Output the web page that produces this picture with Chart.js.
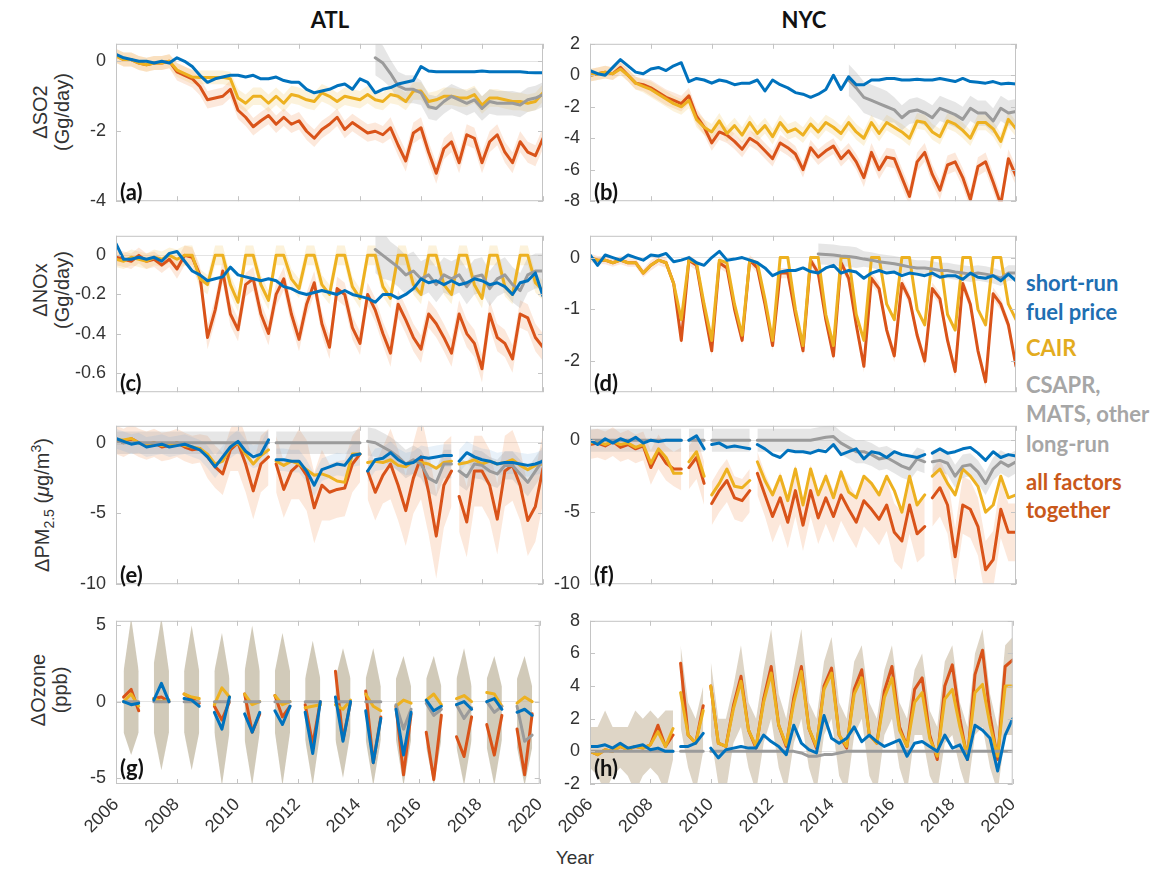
<!DOCTYPE html>
<html>
<head>
<meta charset="utf-8">
<script src="https://cdn.jsdelivr.net/npm/chart.js@4.4.1/dist/chart.umd.min.js"></script>
<style>
body { margin:0; background:#fff; width:1168px; height:873px; position:relative; overflow:hidden; font-family:"Liberation Sans", Arial, sans-serif; }
canvas { position:absolute; }
.t { position:absolute; white-space:nowrap; }
.head { font-family:Lato; font-weight:bold; font-size:22px; color:#111; transform:translate(-50%,-50%); }
.ylab { font-size:20px; color:#333; line-height:22px; text-align:center; transform:translate(-50%,-50%) rotate(-90deg); }
.ylab sub, .ylab sup { font-size:14px; line-height:0; }
.tag { font-family:Lato; font-weight:bold; font-size:22px; color:#111; }
.leg { font-family:Lato; font-weight:bold; font-size:22px; left:1026px; transform:translateY(-50%); }
</style>
</head>
<body>
<div class="t head" style="left:330px;top:19px">ATL</div>
<div class="t head" style="left:804px;top:19px">NYC</div>

<div class="t ylab" style="left:51px;top:112px">ΔSO2<br>(Gg/day)</div>
<div class="t ylab" style="left:51px;top:290px">ΔNOx<br>(Gg/day)</div>
<div class="t ylab" style="left:42px;top:505px">ΔPM<sub>2.5</sub> (<i>μ</i>g/m<sup>3</sup>)</div>
<div class="t ylab" style="left:49px;top:690px">ΔOzone<br>(ppb)</div>

<div class="t leg" style="top:282px;color:#1f6fb2">short-run</div>
<div class="t leg" style="top:311px;color:#1f6fb2">fuel price</div>
<div class="t leg" style="top:347px;color:#e3ac1f">CAIR</div>
<div class="t leg" style="top:384px;color:#a6a6a6">CSAPR,</div>
<div class="t leg" style="top:413px;color:#a6a6a6">MATS, other</div>
<div class="t leg" style="top:443px;color:#a6a6a6">long-run</div>
<div class="t leg" style="top:481px;color:#c9581a">all factors</div>
<div class="t leg" style="top:509px;color:#c9581a">together</div>

<div class="t" style="left:575px;top:858px;transform:translate(-50%,-50%);font-size:19px;color:#333">Year</div>

<script>
const N = null;

// tick labels
const yearTicks = [2006, 2008, 2010, 2012, 2014, 2016, 2018, 2020];
const so2AtlTicks = [-4, -2, 0];
const so2NycTicks = [-8, -6, -4, -2, 0, 2];
const noxAtlTicks = [-0.6, -0.4, -0.2, 0];
const noxNycTicks = [-2, -1, 0];
const pmTicks = [-10, -5, 0];
const o3AtlTicks = [-5, 0, 5];
const o3NycTicks = [-2, 0, 2, 4, 6, 8];

// quarterly grid, Jan 2006 .. Jan 2020
const QX = [];
for (let yr = 2006; yr <= 2020; yr++) {
	for (let q = 0; q < 4; q++) {
		if (yr < 2020 || q === 0) QX.push(yr + q / 4);
	}
}
function lead(n, arr) { return new Array(n).fill(null).concat(arr); }

// (a) ATL SO2
const atlSo2Fuel = [0.2,0.1,0.05,0, 0,-0.05,0,-0.05, 0.1,0,-0.15,-0.4, -0.6,-0.5,-0.45,-0.4, -0.4,-0.45,-0.4,-0.5, -0.5,-0.45,-0.55,-0.6, -0.6,-0.8,-0.9,-0.85, -0.8,-0.7,-0.65,-0.8, -0.5,-0.6,-0.9,-0.8, -0.75,-0.65,-0.6,-0.55, -0.15,-0.28,-0.3,-0.3, -0.3,-0.3,-0.3,-0.3, -0.28,-0.3,-0.3,-0.3, -0.3,-0.3,-0.32,-0.33, -0.33];
const atlSo2Cair = [0.15,0.05,0.05,-0.05, -0.1,-0.05,-0.05,0, -0.25,-0.35,-0.45,-0.46, -0.46,-0.46,-0.46,-0.5, -1.05,-1.2,-1.0,-1.0, -1.2,-1.0,-1.2,-0.95, -1.0,-1.1,-1.15,-0.9, -1.0,-1.15,-1.0,-1.05, -1.1,-0.95,-1.1,-1.15, -0.95,-1.0,-1.15,-0.85, -0.85,-1.15,-1.1,-1.0, -1.0,-1.05,-1.05,-0.95, -1.25,-1.05,-1.05,-1.1, -1.15,-1.15,-1.2,-1.15, -0.9];
const atlSo2Other = lead(34, [0.1,-0.05, -0.35,-0.7,-0.8,-0.8, -0.9,-1.3,-1.35,-1.15, -1.0,-1.1,-1.2,-1.1, -1.35,-1.15,-1.2,-1.2, -1.2,-1.25,-1.1,-1.05, -0.95]);
const atlSo2All = [0.16,0.05,0.05,-0.05, -0.1,-0.05,-0.05,0, -0.3,-0.4,-0.5,-0.72, -1.1,-1.05,-1.0,-0.8, -1.4,-1.6,-1.87,-1.7, -1.55,-1.8,-1.6,-1.8, -1.7,-2.0,-2.2,-1.95, -1.8,-1.6,-1.95,-1.75, -1.9,-2.05,-2.0,-2.1, -1.9,-2.4,-2.85,-2.05, -1.9,-2.6,-3.2,-2.5, -2.3,-2.9,-2.1,-2.2, -2.9,-2.3,-2.1,-2.6, -2.9,-2.3,-2.6,-2.7, -2.2];
const atlSo2AllSpread = [0.2,0.2,0.25,0.25,0.25,0.25,0.25,0.25,0.25,0.3,0.3,0.3,0.3,0.3,0.3];
const atlSo2CairSpread = [0.2,0.2,0.2,0.2,0.25,0.25,0.25,0.25,0.25,0.25,0.25,0.25,0.25,0.25,0.25];
const atlSo2OtherSpread = [0,0,0,0,0,0,0,0,0.5,0.4,0.35,0.35,0.35,0.35,0.35];

// (b) NYC SO2
const nycSo2Fuel = [0.3,0.1,0,0.5, 1.0,0.6,0.2,0.1, 0.4,0.5,0.3,0.6, 0.8,-0.4,-0.2,-0.3, -0.5,-0.3,-0.4,-0.6, -0.5,-0.5,-0.3,-1.0, -0.3,-0.6,-0.8,-1.1, -1.2,-1.4,-1.2,-0.9, 0,-0.9,-0.1,-0.6, -0.6,-0.3,-0.3,-0.2, -0.2,-0.3,-0.3,-0.25, -0.3,-0.3,-0.2,-0.3, -0.4,-0.2,-0.4,-0.45, -0.5,-0.4,-0.55,-0.5, -0.55];
const nycSo2Cair = [0,0.1,0.2,0.1, 0.4,0,-0.5,-0.7, -0.9,-1.2,-1.5,-1.8, -2.0,-1.6,-2.8,-3.3, -3.6,-2.9,-3.7,-3.2, -3.8,-3.0,-3.7,-3.2, -3.9,-3.0,-3.6,-3.4, -3.8,-3.1,-3.6,-3.0, -3.3,-3.7,-3.0,-3.6, -4.0,-3.0,-3.7,-3.0, -3.3,-3.6,-4.0,-2.9, -3.0,-3.6,-3.9,-2.9, -3.1,-3.5,-4.0,-3.0, -3.0,-3.4,-4.2,-2.8, -3.4];
const nycSo2Other = lead(34, [-0.3,-0.8, -1.4,-1.6,-1.8,-2.0, -2.2,-2.7,-2.3,-2.2, -2.4,-2.7,-2.1,-2.3, -2.5,-2.8,-2.1,-2.4, -2.4,-2.9,-2.1,-2.4, -2.3]);
const nycSo2All = [0,0.1,0.2,0.1, 0.5,0,-0.5,-0.6, -0.8,-1.1,-1.4,-1.6, -1.8,-1.3,-2.6,-3.3, -4.3,-3.6,-3.8,-4.2, -4.7,-4.0,-4.3,-4.8, -5.3,-4.3,-4.6,-5.0, -6.0,-4.6,-5.2,-4.8, -4.5,-5.3,-4.8,-5.5, -6.5,-4.9,-6.0,-5.2, -5.3,-6.5,-7.7,-5.5, -4.9,-6.3,-7.3,-5.7, -5.5,-6.5,-7.9,-5.8, -5.5,-6.8,-8.2,-5.3, -6.4];
const nycSo2AllSpread = [0.4,0.4,0.5,0.5,0.5,0.5,0.5,0.5,0.5,0.6,0.6,0.6,0.6,0.6,0.6];
const nycSo2CairSpread = [0.4,0.4,0.5,0.5,0.5,0.5,0.5,0.5,0.5,0.5,0.5,0.5,0.5,0.5,0.5];
const nycSo2OtherSpread = [0,0,0,0,0,0,0,0,1.0,1.0,0.8,0.8,0.8,0.8,0.8];

// (c) ATL NOx
const atlNoxFuel = [0.06,-0.02,-0.02,-0.01, -0.02,-0.01,-0.03,0.01, 0.02,-0.03,-0.08,-0.1, -0.13,-0.12,-0.11,-0.06, -0.1,-0.11,-0.12,-0.13, -0.12,-0.13,-0.16,-0.17, -0.19,-0.2,-0.19,-0.18, -0.19,-0.2,-0.18,-0.2, -0.21,-0.22,-0.24,-0.2, -0.2,-0.22,-0.2,-0.17, -0.12,-0.14,-0.13,-0.15, -0.13,-0.15,-0.14,-0.12, -0.13,-0.15,-0.14,-0.16, -0.2,-0.14,-0.13,-0.09, -0.21];
const atlNoxCair = [-0.02,-0.03,-0.01,-0.02, -0.03,-0.01,-0.02,0, -0.02,0,0,-0.12, -0.15,0,0,-0.15, -0.24,0,0,-0.15, -0.23,0,0,-0.12, -0.17,0,0,-0.15, -0.2,0,0,-0.16, -0.22,0,0,-0.16, -0.22,0,0,-0.15, -0.2,0,0,-0.15, -0.2,0,0,-0.15, -0.22,0,0,-0.16, -0.2,0,0,-0.14, -0.18];
const atlNoxOther = lead(34, [0.03,0.0, -0.03,-0.06,-0.1,-0.08, -0.12,-0.1,-0.15,-0.1, -0.12,-0.1,-0.16,-0.11, -0.1,-0.17,-0.12,-0.1, -0.15,-0.18,-0.1,-0.08, -0.08]);
const atlNoxAll = [-0.01,-0.02,-0.03,0, -0.03,-0.02,-0.05,-0.02, -0.07,0,-0.01,-0.1, -0.42,-0.28,-0.08,-0.3, -0.38,-0.15,-0.12,-0.3, -0.4,-0.2,-0.12,-0.3, -0.43,-0.25,-0.14,-0.35, -0.47,-0.17,-0.2,-0.37, -0.45,-0.2,-0.28,-0.4, -0.5,-0.25,-0.33,-0.42, -0.48,-0.3,-0.35,-0.42, -0.5,-0.3,-0.4,-0.45, -0.58,-0.3,-0.42,-0.45, -0.53,-0.3,-0.32,-0.42, -0.47];
const atlNoxAllSpread = [0.04,0.04,0.05,0.06,0.06,0.06,0.06,0.06,0.06,0.07,0.07,0.07,0.07,0.07,0.07];
const atlNoxCairSpread = [0.04,0.04,0.05,0.05,0.05,0.05,0.05,0.05,0.05,0.05,0.05,0.05,0.05,0.05,0.05];
const atlNoxOtherSpread = [0,0,0,0,0,0,0,0,0.12,0.1,0.09,0.09,0.09,0.09,0.09];

// (d) NYC NOx
const nycNoxFuel = [0.05,-0.15,0.05,0, -0.05,0.05,0,-0.05, 0.05,0.03,0.08,-0.08, -0.05,0,-0.1,-0.15, 0,0.12,-0.05,-0.03, 0,-0.05,-0.1,-0.2, -0.35,-0.28,-0.25,-0.25, -0.2,-0.27,-0.3,-0.2, -0.15,-0.3,-0.25,-0.28, -0.4,-0.3,-0.25,-0.3, -0.28,-0.35,-0.3,-0.32, -0.35,-0.3,-0.38,-0.35, -0.35,-0.42,-0.3,-0.38, -0.4,-0.35,-0.45,-0.32, -0.45];
const nycNoxCair = [0,-0.05,-0.05,-0.1, -0.05,-0.1,-0.1,-0.3, -0.15,-0.05,-0.1,-0.5, -1.2,-0.05,-0.1,-0.9, -1.6,-0.05,-0.1,-0.9, -1.5,-0.05,-0.1,-0.8, -1.6,0,0,-1.0, -1.7,0,0,-1.1, -1.7,0,0,-1.1, -1.6,0,0,-0.9, -1.2,0,0,-1.0, -1.3,0,0,-1.1, -1.4,0,0,-1.0, -1.3,0,0,-0.9, -1.2];
const nycNoxOther = lead(30, [0.07,0.06, 0.05,0.03,0.02,0, -0.03,-0.05,-0.08,-0.1, -0.12,-0.15,-0.18,-0.2, -0.2,-0.22,-0.25,-0.25, -0.28,-0.3,-0.32,-0.3, -0.32,-0.35,-0.4,-0.3, -0.3]);
const nycNoxAll = [0,-0.05,-0.05,-0.1, -0.05,-0.1,-0.1,-0.3, -0.15,-0.05,-0.1,-0.5, -1.6,-0.05,-0.15,-1.0, -1.8,-0.1,-0.2,-1.0, -1.6,-0.05,-0.2,-0.9, -1.7,-0.3,-0.3,-1.1, -1.8,-0.05,-0.3,-1.2, -1.9,-0.1,-0.4,-1.3, -2.1,-0.4,-0.6,-1.4, -1.9,-0.5,-0.8,-1.5, -2.0,-0.6,-0.8,-1.6, -2.2,-0.5,-0.9,-1.8, -2.4,-0.7,-0.9,-1.3, -2.1];
const nycNoxAllSpread = [0.08,0.08,0.1,0.1,0.1,0.1,0.1,0.1,0.1,0.12,0.12,0.12,0.12,0.12,0.12];
const nycNoxOtherSpread = [0,0,0,0,0,0,0,0.2,0.2,0.15,0.15,0.15,0.15,0.15,0.15];

// (e) ATL PM2.5, breaks in the record
const atlPmGaps = [2011.1, 2014.1, 2017.1];
const atlPmFuel = [0.3,0.1,-0.1,0, -0.3,-0.2,-0.1,-0.3, -0.2,-0.1,-0.3,-0.5, -1.0,-1.7,-1.0,-0.3, 0.1,-0.6,-1.0,-0.8, 0.2,-1.2,-1.2,-1.3, -1.3,-2.0,-3.0,-1.9, -1.7,-1.5,-1.6,-0.9, -0.8,-2.0,-1.2,-1.1, -0.7,-1.2,-1.5,-1.4, -1.0,-1.1,-1.0,-0.9, -0.9,-1.3,-0.7,-1.0, -1.2,-1.3,-1.5,-1.4, -1.4,-1.5,-1.6,-1.5, -1.3];
const atlPmCair = [0.2,0.2,0.3,0, -0.1,0,-0.2,-0.2, 0,-0.2,-0.3,-0.4, -0.8,-1.5,-1.3,-0.3, 0,-0.8,-1.5,-0.9, -0.5,-1.3,-1.6,-1.3, -1.5,-1.9,-2.3,-2.2, -2.4,-2.7,-2.8,-0.8, -0.8,-1.4,-1.3,-1.4, -1.2,-1.6,-1.7,-1.3, -1.4,-1.5,-1.8,-1.4, -1.3,-1.5,-1.4,-1.2, -1.5,-1.3,-1.5,-1.4, -1.2,-1.6,-1.9,-1.6, -1.5];
const atlPmOther = [0,0,0,0, 0,0,0,0, 0,0,0,0, 0,0,0,0, 0,0,0,0, 0,0,0,0, 0,0,0,0, 0,0,0,0, 0,0.1,0,-0.3, -0.6,-1.0,-1.5,-1.2, -1.5,-2.5,-2.8,-1.5, -1.5,-2.0,-2.4,-1.5, -1.6,-2.0,-2.2,-1.6, -1.6,-2.2,-2.8,-2.0, -1.2];
const atlPmAll = [0.2,0,0.3,0, -0.2,0,-0.3,-0.2, 0,-0.3,-0.5,-0.4, -1.0,-1.7,-2.2,-0.5, 0,-1.5,-3.4,-1.5, -1.0,-1.5,-3.3,-2.0, -1.5,-2.3,-4.6,-3.0, -3.5,-3.3,-3.2,-1.5, -0.8,-2.0,-3.5,-2.3, -1.5,-3.0,-4.8,-2.5, -1.0,-3.5,-6.6,-3.0, -2.0,-3.8,-5.6,-2.0, -2.0,-3.0,-5.4,-2.0, -1.6,-3.0,-5.5,-4.5, -1.8];
const atlPmAllSpread = [1.0,1.0,1.0,1.5,2.0,2.0,2.5,2.0,2.0,2.5,3.0,2.5,2.5,2.5,2.5];
const atlPmFuelSpread = [0.7,0.7,0.7,0.8,0.8,0.8,0.8,0.8,0.8,0.8,0.8,0.8,0.8,0.8,0.8];
const atlPmOtherSpread = [0.8,0.8,0.8,0.8,0.8,0.8,0.8,0.8,1.0,1.0,1.0,1.0,1.0,1.0,1.0];

// (f) NYC PM2.5
const nycPmGaps = [2009.1, 2009.9, 2011.4, 2017.2];
const nycPmFuel = [0,-0.3,0.1,-0.2, 0.1,-0.1,0.2,-0.2, 0,-0.1,0,0, 0,0,0.3,-0.6, -0.3,-0.2,-0.5,-0.4, -0.5,-0.6,-0.3,-0.6, -1.0,-1.2,-0.7,-0.8, -0.8,-0.9,-0.7,-0.8, -0.3,-1.0,-0.8,-0.6, -1.3,-0.8,-0.9,-1.2, -0.8,-1.0,-1.1,-1.2, -1.0,-0.9,-0.6,-0.9, -0.8,-0.6,-0.5,-0.9, -1.4,-0.8,-1.2,-1.0, -1.1];
const nycPmCair = [-0.2,-0.1,-0.3,-0.1, -0.3,-0.2,-0.5,-0.3, -1.6,-0.6,-1.2,-2.3, -2.3,-1.5,-0.8,-2.5, -3.8,-3.0,-2.0,-3.2, -3.3,-2.8,-1.5,-2.8, -3.8,-2.5,-4.2,-2.0, -4.5,-2.0,-3.8,-2.5, -4.0,-2.2,-3.6,-4.0, -2.5,-3.0,-3.8,-2.5, -3.5,-5.0,-2.5,-4.5, -3.8,-2.5,-2.0,-3.0, -3.8,-2.0,-2.5,-3.2, -5.0,-4.5,-2.5,-4.0, -3.8];
const nycPmOther = [0,0,0,0, 0,0,0,0, 0,0,0,0, 0,0,0,0, 0,0,0,0, 0,0,0,0, 0,0,0,0, 0,0,0.1,0.2, 0.25,-0.2,-0.5,-0.8, -0.8,-1.0,-1.3,-1.2, -1.5,-1.8,-2.0,-1.3, -1.5,-1.5,-1.4,-1.6, -2.5,-1.8,-1.7,-2.2, -3.0,-2.0,-1.5,-1.8, -1.5];
const nycPmAll = [-0.3,-0.2,-0.4,-0.1, -0.5,-0.3,-0.6,-0.4, -1.9,-0.8,-1.6,-2.0, -2.0,-1.9,-1.2,-3.0, -4.4,-3.5,-2.8,-4.0, -4.2,-3.5,-2.3,-3.8, -5.3,-4.0,-5.7,-3.5, -5.9,-3.5,-5.4,-4.0, -5.3,-3.8,-4.8,-5.7, -4.2,-4.8,-5.5,-4.5, -6.4,-7.0,-4.5,-6.5, -6.0,-4.0,-3.3,-4.5, -8.1,-4.5,-4.8,-6.0, -9.0,-8.3,-4.8,-6.4, -6.4];
const nycPmAllSpread = [1.0,1.0,1.2,1.5,1.5,1.5,1.8,1.8,1.8,1.8,2.0,2.0,2.0,2.0,2.0];
const nycPmOtherSpread = [0.8,0.8,0.8,0.8,0.8,0.8,0.8,0.8,0.8,0.8,0.8,0.8,0.8,0.8,0.8];

// (g) ATL ozone, warm-season only
const atlO3Fuel = [N,0,-0.2,-0.1, N,0.1,1.2,0, N,0.2,0.1,-0.3, N,-0.7,-1.8,0.3, N,-0.8,-2.0,-0.7, N,-0.6,-1.5,-0.3, N,-0.7,-3.4,0, N,0.3,-2.6,0, N,-0.6,-4.0,-1.1, N,-0.5,-3.5,-0.7, N,0.1,-0.6,-0.3, N,-0.2,0,-0.5, N,0,0.2,-0.5, N,-0.7,-0.5,-0.9, N];
const atlO3Cair = [N,0,0.5,-0.3, N,0.2,0,0.1, N,0.5,0.3,0.2, N,-0.2,0.9,0.3, N,0.5,-0.2,0, N,0.4,-0.2,0, N,-0.4,-0.3,-0.2, N,-0.2,-0.5,0.1, N,0.5,-0.3,-0.6, N,-0.3,0.1,-0.1, N,0.1,0.5,-0.2, N,0.2,0.4,0, N,0.6,0.5,-0.3, N,-0.1,0.3,0, N];
const atlO3Other = [N,0,0,0, N,0,0,0, N,0,0,0, N,0,0,0, N,0,0,0, N,0,0,0, N,0,0,0, N,0,0,0, N,0,0,0, N,-0.2,-1.8,-0.5, N,-0.1,-0.9,-0.5, N,-0.2,-1.1,-0.4, N,0,-0.7,-0.3, N,-0.3,-2.6,-2.2, N];
const atlO3All = [N,0.3,0.8,-0.6, N,0.2,0.3,0, N,0.5,0.2,-0.1, N,-0.3,-1.2,0, N,0.5,-2.0,-0.8, N,0.4,-1.0,-0.3, N,-0.2,-2.8,0, N,2.0,-2.5,0, N,0.7,-4.0,-1.0, N,-0.3,-4.8,-0.8, N,-2.0,-5.1,-0.9, N,-2.3,-3.6,-1.0, N,-1.5,-3.5,-0.9, N,-1.8,-4.8,-0.8, N];
const atlO3Hi = [N,2.0,5.5,2.0, N,2.5,5.5,2.0, N,2.0,5.0,2.0, N,2.0,4.5,1.5, N,2.0,5.0,2.0, N,2.0,4.5,2.0, N,1.5,4.0,1.5, N,1.5,3.5,1.5, N,1.5,3.5,1.0, N,1.5,3.0,1.0, N,1.5,3.0,1.0, N,1.5,3.5,1.0, N,1.5,3.0,1.0, N,1.5,3.0,1.0, N];
const atlO3Lo = [N,-2.0,-3.5,-2.0, N,-2.0,-4.5,-2.0, N,-2.0,-4.5,-2.0, N,-2.0,-5.5,-2.0, N,-2.5,-5.5,-2.0, N,-2.0,-5.5,-2.0, N,-2.5,-5.5,-2.0, N,-2.5,-5.0,-2.0, N,-2.5,-5.5,-2.5, N,-2.5,-5.5,-2.5, N,-3.0,-5.5,-2.5, N,-3.0,-5.5,-2.5, N,-3.0,-5.5,-2.5, N,-3.0,-5.5,-3.0, N];

// (h) NYC ozone
const nycO3Gaps = [2008.9, 2009.9];
const nycO3Fuel = [0.3,0.3,0.4,0.2, 0.5,0.2,0.3,0.4, 0.1,0.2,0,0, 0.3,0.3,0.5,1.1, 0.2,-0.4,0.1,0.2, 0.3,0.2,0.2,1.0, 0.6,0.3,-0.2,1.6, 0.5,0.1,-0.1,2.2, 0.8,0.5,0.8,1.5, 0.6,1.0,0.6,0.3, 0.5,0.7,-0.3,0.5, 0.6,0.3,0,1.0, 0.2,0.4,-0.5,1.6, 1.3,0.8,-1.2,1.0, 2.0];
const nycO3Cair = [0,-0.2,0.1,0, 0.3,0.1,0.3,0.2, 0.4,1.2,0.3,1.4, 3.6,1.0,0.5,2.5, 4.0,0.5,0.3,2.6, 4.3,1.3,0.3,3.0, 4.8,1.6,0.4,3.0, 4.9,1.4,0.3,3.8, 4.8,1.0,0.3,3.5, 4.5,1.0,0.5,3.3, 4.5,1.3,0.3,3.0, 3.6,0.8,-0.3,3.2, 3.8,1.5,-0.3,3.6, 4.1,1.6,-0.3,4.0, 4.0];
const nycO3Other = [0,0,0,0, 0,0,0,0, 0,0,0,0, 0,0,0,0, 0,0,0,0, 0,0,0,0, 0,0,0,0, -0.1,-0.3,-0.3,-0.2, -0.2,-0.1,0,0, 0,0,0,0, 0,0,0,0, 0,0,0,0, 0,0,0,0, 0,0,0,0, 0];
const nycO3All = [0,-0.2,0.1,0, 0.3,0.1,0.3,0.2, 0.4,1.6,0.3,1.0, 5.4,1.0,0.5,2.8, 4.0,0.5,0.3,2.8, 4.6,1.3,0.2,3.2, 5.2,1.6,0.3,3.3, 5.2,1.4,0.2,4.0, 5.1,1.0,0.2,3.8, 5.0,1.0,0.5,3.7, 5.2,1.5,0.3,3.8, 4.5,1.0,-0.5,4.0, 5.3,2.0,-0.5,4.7, 6.2,2.2,-0.5,5.2, 5.6];
const nycO3Hi = [1.5,1.5,2.5,1.5, 1.5,1.5,2.5,2.0, 2.5,2.0,2.5,2.5, 6.5,3.0,2.0,4.0, 5.5,2.0,2.0,4.0, 6.5,3.0,2.0,5.0, 7.5,3.5,2.0,5.0, 7.5,3.0,2.0,5.5, 7.0,3.0,2.0,5.5, 6.5,3.0,2.0,5.0, 6.5,3.0,2.0,5.0, 6.0,2.5,1.5,5.5, 6.5,3.0,1.5,6.0, 7.5,3.5,1.5,6.5, 7.0];
const nycO3Lo = [-1.0,-1.5,-2.5,-1.5, -1.0,-1.5,-2.5,-1.5, -1.0,-1.5,-2.5,-0.5, 1.5,-1.0,-2.5,0.0, 1.0,-2.0,-2.5,0.5, 1.5,-1.0,-2.5,0.5, 2.0,-1.0,-2.5,0.5, 2.0,-1.0,-2.5,1.0, 2.0,-1.5,-2.5,1.0, 2.0,-1.5,-2.5,1.0, 2.0,-1.0,-2.5,1.0, 1.0,-1.5,-2.5,0.5, 1.0,-1.0,-2.5,1.0, 1.5,-1.0,-2.5,1.0, 1.0];

const lineColor = { fuel:'#0072BD', other:'#9b9b9b', cair:'#EDB120', all:'#D95319' };
const bandColor = {
	fuel:'rgba(110,170,215,0.16)',
	other:'rgba(165,165,165,0.28)',
	cair:'rgba(240,195,90,0.22)',
	all:'rgba(240,150,90,0.22)'
};

const panels = [
	{ tag:'(a)', left:116, top:37, w:427, h:171, min:-4, max:0.5, ticks:so2AtlTicks,
	  lines:{ fuel:atlSo2Fuel, other:atlSo2Other, cair:atlSo2Cair, all:atlSo2All },
	  bands:[ {key:'other', spread:atlSo2OtherSpread}, {key:'cair', spread:atlSo2CairSpread}, {key:'all', spread:atlSo2AllSpread} ] },
	{ tag:'(b)', left:590, top:37, w:426, h:171, min:-8, max:2, ticks:so2NycTicks,
	  lines:{ fuel:nycSo2Fuel, other:nycSo2Other, cair:nycSo2Cair, all:nycSo2All },
	  bands:[ {key:'other', spread:nycSo2OtherSpread}, {key:'cair', spread:nycSo2CairSpread}, {key:'all', spread:nycSo2AllSpread} ] },
	{ tag:'(c)', left:116, top:229, w:427, h:170, min:-0.7, max:0.1, ticks:noxAtlTicks,
	  lines:{ fuel:atlNoxFuel, other:atlNoxOther, cair:atlNoxCair, all:atlNoxAll },
	  bands:[ {key:'other', spread:atlNoxOtherSpread}, {key:'cair', spread:atlNoxCairSpread}, {key:'all', spread:atlNoxAllSpread} ] },
	{ tag:'(d)', left:590, top:229, w:426, h:170, min:-2.6, max:0.42, ticks:noxNycTicks,
	  lines:{ fuel:nycNoxFuel, other:nycNoxOther, cair:nycNoxCair, all:nycNoxAll },
	  bands:[ {key:'other', spread:nycNoxOtherSpread}, {key:'all', spread:nycNoxAllSpread} ] },
	{ tag:'(e)', left:116, top:419, w:427, h:172, min:-10, max:1.2, ticks:pmTicks, gaps:atlPmGaps,
	  lines:{ fuel:atlPmFuel, other:atlPmOther, cair:atlPmCair, all:atlPmAll },
	  bands:[ {key:'fuel', spread:atlPmFuelSpread}, {key:'other', spread:atlPmOtherSpread}, {key:'all', spread:atlPmAllSpread} ] },
	{ tag:'(f)', left:590, top:419, w:426, h:172, min:-10, max:1, ticks:pmTicks, gaps:nycPmGaps,
	  lines:{ fuel:nycPmFuel, other:nycPmOther, cair:nycPmCair, all:nycPmAll },
	  bands:[ {key:'other', spread:nycPmOtherSpread}, {key:'all', spread:nycPmAllSpread} ] },
	{ tag:'(g)', left:116, top:614, w:427, h:170, min:-5.4, max:5.3, ticks:o3AtlTicks, bottom:true,
	  lines:{ fuel:atlO3Fuel, other:atlO3Other, cair:atlO3Cair, all:atlO3All },
	  bands:[ {lo:atlO3Lo, hi:atlO3Hi, color:'rgba(190,180,155,0.7)'} ] },
	{ tag:'(h)', left:590, top:614, w:426, h:170, min:-2, max:8, ticks:o3NycTicks, bottom:true, gaps:nycO3Gaps,
	  lines:{ fuel:nycO3Fuel, other:nycO3Other, cair:nycO3Cair, all:nycO3All },
	  bands:[ {lo:nycO3Lo, hi:nycO3Hi, color:'rgba(200,185,160,0.6)'} ] }
];

// points on the quarterly grid, with a null put in at each break of the record
function pts(vals, gaps) {
	let out = vals.map((v, i) => ({ x: QX[i], y: v }));
	(gaps || []).forEach(g => {
		let j = out.findIndex(o => o.x > g);
		out.splice(j, 0, { x: g, y: null });
	});
	return out;
}

function spreadBand(vals, spread, sign) {
	return vals.map((v, i) => v === null ? null : v + sign * spread[Math.floor(QX[i]) - 2006]);
}

//draws the box and the small inner tick marks
const framePlugin = {
	id: 'frame',
	afterDatasetsDraw(chart) {
		const ctx = chart.ctx;
		const a = chart.chartArea;
		const xs = chart.scales.x, ys = chart.scales.y;
		ctx.save();
		ctx.strokeStyle = '#c4c4c4';
		ctx.lineWidth = 1;
		ctx.strokeRect(a.left + 0.5, a.top + 0.5, a.right - a.left - 1, a.bottom - a.top - 1);
		ctx.beginPath();
		yearTicks.forEach(v => {
			let px = Math.round(xs.getPixelForValue(v)) + 0.5;
			ctx.moveTo(px, a.bottom); ctx.lineTo(px, a.bottom - 5);
			ctx.moveTo(px, a.top); ctx.lineTo(px, a.top + 5);
		});
		ys.ticks.forEach(t => {
			let py = Math.round(ys.getPixelForValue(t.value)) + 0.5;
			ctx.moveTo(a.left, py); ctx.lineTo(a.left + 5, py);
			ctx.moveTo(a.right, py); ctx.lineTo(a.right - 5, py);
		});
		ctx.stroke();
		ctx.restore();
	}
};

Chart.defaults.font.family = '"Liberation Sans", Arial, sans-serif';

function addPanel(p) {
	const yW = 70, padT = 14, padR = 14;
	const xH = p.bottom ? 60 : 14;
	const cw = yW + p.w + padR, ch = padT + p.h + xH;

	let cv = document.createElement('canvas');
	cv.width = cw; cv.height = ch;
	cv.style.left = (p.left - yW) + 'px';
	cv.style.top = (p.top - padT) + 'px';
	cv.style.width = cw + 'px';
	cv.style.height = ch + 'px';
	document.body.appendChild(cv);

	let datasets = [];
	['fuel', 'other', 'cair', 'all'].forEach(k => {
		datasets.push({
			data: pts(p.lines[k], p.gaps),
			borderColor: lineColor[k],
			borderWidth: 3,
			pointRadius: 0,
			fill: false,
			spanGaps: false
		});
	});
	p.bands.forEach(b => {
		let lo, hi, col;
		if (b.lo) { lo = b.lo; hi = b.hi; col = b.color; }
		else {
			lo = spreadBand(p.lines[b.key], b.spread, -1);
			hi = spreadBand(p.lines[b.key], b.spread, 1);
			col = bandColor[b.key];
		}
		datasets.push({ data: pts(lo, p.gaps), borderWidth: 0, borderColor: 'rgba(0,0,0,0)', pointRadius: 0, fill: false, spanGaps: false });
		datasets.push({ data: pts(hi, p.gaps), borderWidth: 0, borderColor: 'rgba(0,0,0,0)', pointRadius: 0, fill: '-1', backgroundColor: col, spanGaps: false });
	});

	new Chart(cv, {
		type: 'line',
		data: { datasets: datasets },
		options: {
			responsive: false,
			animation: false,
			devicePixelRatio: 1,
			layout: { padding: { top: padT, right: padR, left: 0, bottom: 0 } },
			plugins: { legend: { display: false }, tooltip: { enabled: false } },
			elements: { line: { tension: 0, borderJoinStyle: 'round', borderCapStyle: 'round' } },
			scales: {
				x: {
					type: 'linear', min: 2006, max: 2020,
					grid: { display: false },
					border: { display: false },
					afterBuildTicks: s => { s.ticks = yearTicks.map(v => ({ value: v })); },
					afterFit: s => { s.height = xH; },
					ticks: {
						display: !!p.bottom, autoSkip: false, maxRotation: 45, minRotation: 45,
						color: '#333', font: { size: 18 }, padding: 2,
						callback: v => String(v)
					}
				},
				y: {
					min: p.min, max: p.max,
					grid: { drawTicks: false, color: c => (c.tick && c.tick.value === 0) ? '#e4e4e4' : 'rgba(0,0,0,0)' },
					border: { display: false },
					afterBuildTicks: s => { s.ticks = p.ticks.map(v => ({ value: v })); },
					afterFit: s => { s.width = yW; },
					ticks: { color: '#333', font: { size: 18 }, padding: 10, callback: v => String(v) }
				}
			}
		},
		plugins: [framePlugin]
	});

	let tag = document.createElement('div');
	tag.className = 't tag';
	tag.style.left = (p.left + 4) + 'px';
	tag.style.top = (p.top + p.h - 30) + 'px';
	tag.innerText = p.tag;
	document.body.appendChild(tag);
}

panels.forEach(addPanel);
</script>
</body>
</html>
